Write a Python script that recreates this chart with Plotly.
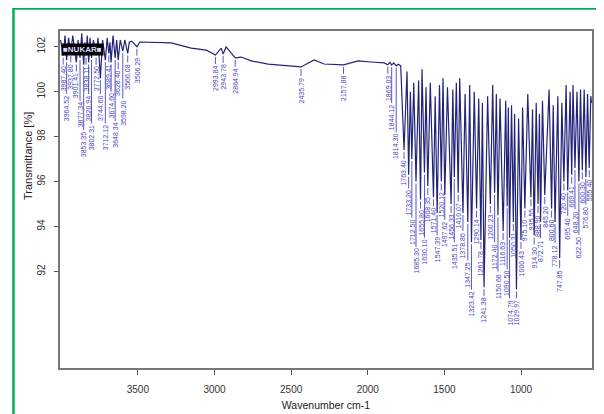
import numpy as np
import plotly.graph_objects as go

# ---------------- data ----------------
wavenumber = [
    4004, 3987.40, 3975, 3964.52, 3952, 3937.80, 3925, 3901.41, 3890, 3877.34,
    3866, 3853.35, 3845, 3838.11, 3830, 3820.94, 3812, 3802.31, 3790, 3772.50,
    3760, 3744.60, 3730, 3712.12, 3700, 3689.41, 3682, 3674.60, 3662, 3648.34,
    3638, 3628.40, 3615, 3598.20, 3585, 3566.08, 3556, 3540, 3506.29, 3487,
    3282, 3152, 3054, 2993.84, 2956, 2943.78, 2924, 2891, 2864.94, 2826,
    2761, 2650, 2565, 2435.79, 2350, 2285, 2157.88, 2063, 1978, 1893,
    1869.03, 1855, 1844.12, 1830, 1814.30, 1800, 1785,
    1763.40, 1744, 1733.20, 1722, 1712.50, 1700, 1685.30, 1668, 1655.80, 1646,
    1630.10, 1620, 1608.35, 1592, 1571.40, 1560, 1547.39, 1532, 1520.12, 1509,
    1497.62, 1480, 1456.33, 1445, 1435.51, 1422, 1410.07, 1400, 1378.86, 1365,
    1347.25, 1335, 1323.42, 1305, 1290.14, 1276, 1261.78, 1252, 1241.38, 1218,
    1200.23, 1185, 1172.40, 1161, 1150.66, 1137, 1116.63, 1100, 1090.50, 1083,
    1074.79, 1062, 1050.31, 1042, 1029.97, 1016, 1000.43, 990, 975.10, 956,
    935.55, 925, 914.30, 901, 888.90, 880, 872.71, 860, 845.20, 817,
    800.60, 790, 778.12, 760, 747.85, 734, 720.40, 706, 695.40, 680,
    669.41, 661, 648.20, 635, 622.50, 612, 600.30, 588, 576.80, 566,
    555.40, 545, 540,
]
transmittance = [
    102.3, 101.6, 102.5, 101.4, 102.4, 101.7, 102.5, 101.3, 102.3, 101.5,
    102.6, 101.2, 102.2, 101.6, 102.5, 101.3, 102.4, 101.5, 102.3, 101.6,
    102.4, 100.6, 102.3, 101.4, 102.4, 101.7, 102.2, 101.3, 102.5, 101.5,
    102.3, 101.4, 102.3, 101.8, 102.3, 101.7, 102.2, 102.25, 102.0, 102.21,
    102.17, 101.94, 101.85, 101.63, 101.94, 101.68, 101.99, 101.72, 101.50, 101.54,
    101.37, 101.23, 101.19, 101.10, 101.41, 101.23, 101.19, 101.37, 101.32, 101.28,
    101.20, 101.30, 101.18, 101.28, 101.15, 101.22, 101.15,
    97.4, 100.9, 96.3, 100.0, 97.0, 100.4, 96.0, 100.5, 95.2, 101.0,
    96.4, 100.2, 95.8, 100.4, 95.3, 99.8, 94.6, 100.3, 96.0, 100.6,
    95.4, 100.2, 95.0, 100.1, 96.2, 100.4, 95.5, 100.6, 94.6, 99.9,
    94.2, 100.3, 93.3, 100.0, 94.8, 99.7, 93.4, 99.5, 91.3, 99.8,
    95.0, 100.3, 95.5, 99.9, 94.5, 99.7, 93.8, 99.6, 94.9, 99.3,
    93.5, 99.4, 94.2, 99.0, 91.2, 98.8, 93.4, 99.3, 94.8, 99.9,
    95.3, 99.2, 93.6, 99.5, 95.0, 99.0, 94.2, 99.6, 95.4, 100.1,
    94.8, 99.4, 94.2, 99.8, 92.6, 99.5, 96.0, 100.3, 95.6, 100.0,
    96.3, 100.3, 96.6, 100.0, 96.0, 100.1, 96.5, 100.1, 96.2, 99.9,
    96.6, 99.8, 99.5,
]
peak_labels = [
    3987.40, 3964.52, 3937.80, 3901.41, 3877.34, 3853.35, 3838.11, 3820.94,
    3802.31, 3772.50, 3744.60, 3712.12, 3689.41, 3674.60, 3648.34, 3628.40,
    3598.20, 3566.08, 3506.29,
    2993.84, 2943.78, 2864.94, 2435.79, 2157.88, 1869.03, 1844.12, 1814.30,
    1763.40, 1733.20, 1712.50, 1685.30, 1655.80, 1630.10, 1608.35, 1571.40,
    1547.39, 1520.12, 1497.62, 1456.33, 1435.51, 1410.07, 1378.86, 1347.25,
    1323.42, 1290.14, 1261.78, 1241.38, 1200.23, 1172.40, 1150.66, 1116.63,
    1090.50, 1074.79, 1050.31, 1029.97, 1000.43, 975.10, 935.55, 914.30,
    888.90, 872.71, 845.20, 800.60, 778.12, 747.85, 720.40, 695.40, 669.41,
    648.20, 622.50, 600.30, 576.80, 555.40,
]
x_ticks = [3500, 3000, 2500, 2000, 1500, 1000]
y_ticks = [92, 94, 96, 98, 100, 102]

# ---------------- layout constants ----------------
# the page body adds an 8 px offset, so the figure is laid out 8 px up/left
OFF = 8
W, H = 604, 414
PL, PT, PR, PB = 60, 31, 592, 368          # plot box in window pixels
ML, MT = PL - OFF, PT - OFF
MR, MB = W - (PR - OFF), H - (PB - OFF)
XR = [4008, 537]
YR = [87.7, 102.7]
PW, PH = PR - PL, PB - PT
LABEL_COLOR = "#4646c2"
LINE_COLOR = "#23237a"
FONT = "Liberation Sans, Arial, sans-serif"


def px_x(w):
    return PL + (XR[0] - w) / (XR[0] - XR[1]) * PW


def px_y(t):
    return PT + (YR[1] - t) / (YR[1] - YR[0]) * PH


def t_from_px(p):
    return YR[1] - (p - PT) / PH * (YR[1] - YR[0])


def paper_x(p):
    return (p - PL) / PW


def paper_y(p):
    return (PB - p) / PH


wn_arr = np.array(wavenumber, dtype=float)
t_arr = np.array(transmittance, dtype=float)
o = np.argsort(wn_arr)


def t_at(w):
    return float(np.interp(w, wn_arr[o], t_arr[o]))


# ---------------- peak-label placement (avoid overlaps) ----------------
LBL_W = 5.0
GAP = 1
placed = []
ann = []
lx, ly = [], []
for w in sorted(peak_labels, reverse=True):
    txt = f"{w:.2f}"
    h = 3.9 * len(txt) + 1
    x = px_x(w)
    d = px_y(t_at(w))
    top = d + 10
    moved = True
    while moved:
        moved = False
        for (pxx, pt, ph) in placed:
            if abs(pxx - x) < LBL_W and top < pt + ph + GAP and top + h + GAP > pt:
                top = pt + ph + GAP
                moved = True
    placed.append((x, top, h))
    lx += [w, w, None]
    ly += [t_from_px(d + 2), t_from_px(top - 1), None]
    ann.append(dict(x=w, y=t_from_px(top), xref="x", yref="y", text=txt,
                    textangle=-90, showarrow=False, xanchor="center", yanchor="top",
                    font=dict(size=7, color=LABEL_COLOR, family=FONT), borderpad=0))

fig = go.Figure()
fig.add_trace(go.Scatter(x=lx, y=ly, mode="lines", line=dict(color=LABEL_COLOR, width=0.9),
                         hoverinfo="skip", showlegend=False))
fig.add_trace(go.Scatter(x=wavenumber, y=transmittance, mode="lines",
                         line=dict(color=LINE_COLOR, width=1.2), showlegend=False))

# y-axis title (centred over the tick range)
ann.append(dict(x=paper_x(28), y=t_from_px(156), xref="paper", yref="y", text="Transmittance [%]",
                textangle=-90, showarrow=False, xanchor="center", yanchor="middle",
                font=dict(size=11, color="#222", family=FONT)))
# black sample tag
ann.append(dict(x=paper_x(61), y=t_from_px(49), xref="paper", yref="y", text="<b>■NUKAR■</b>",
                showarrow=False, xanchor="left", yanchor="middle", bgcolor="black",
                font=dict(size=8, color="#d8d8ff", family=FONT), borderpad=1))

fig.update_layout(
    width=W, height=H,
    margin=dict(l=ML, r=MR, t=MT, b=MB, autoexpand=False),
    paper_bgcolor="white", plot_bgcolor="white",
    font=dict(family=FONT, color="#222"),
    annotations=ann,
    xaxis=dict(range=XR, tickvals=x_ticks, ticks="outside", ticklen=5, tickcolor="#555",
               showgrid=False, zeroline=False, showline=True, linecolor="#777", linewidth=1.5,
               mirror=True, tickfont=dict(size=10, color="#333"), automargin=False,
               ticklabelstandoff=6,
               title=dict(text="Wavenumber cm-1", font=dict(size=10.5, color="#222"), standoff=8)),
    yaxis=dict(range=YR, tickvals=y_ticks, ticks="outside", ticklen=4, tickcolor="#555",
               showgrid=False, zeroline=False, showline=True, linecolor="#777", linewidth=1.5,
               mirror=True, tickangle=-90, tickfont=dict(size=10, color="#333"),
               ticklabelstandoff=5, automargin=False),
    shapes=[
        dict(type="line", xref="paper", yref="paper", x0=paper_x(13.5), x1=paper_x(13.5),
             y0=paper_y(7.5), y1=paper_y(430), line=dict(color="#00b050", width=2.5)),
        dict(type="line", xref="paper", yref="paper", x0=paper_x(12.5), x1=paper_x(620),
             y0=paper_y(8.5), y1=paper_y(8.5), line=dict(color="#00b050", width=2.5)),
    ],
)

fig.write_html("out.html")
